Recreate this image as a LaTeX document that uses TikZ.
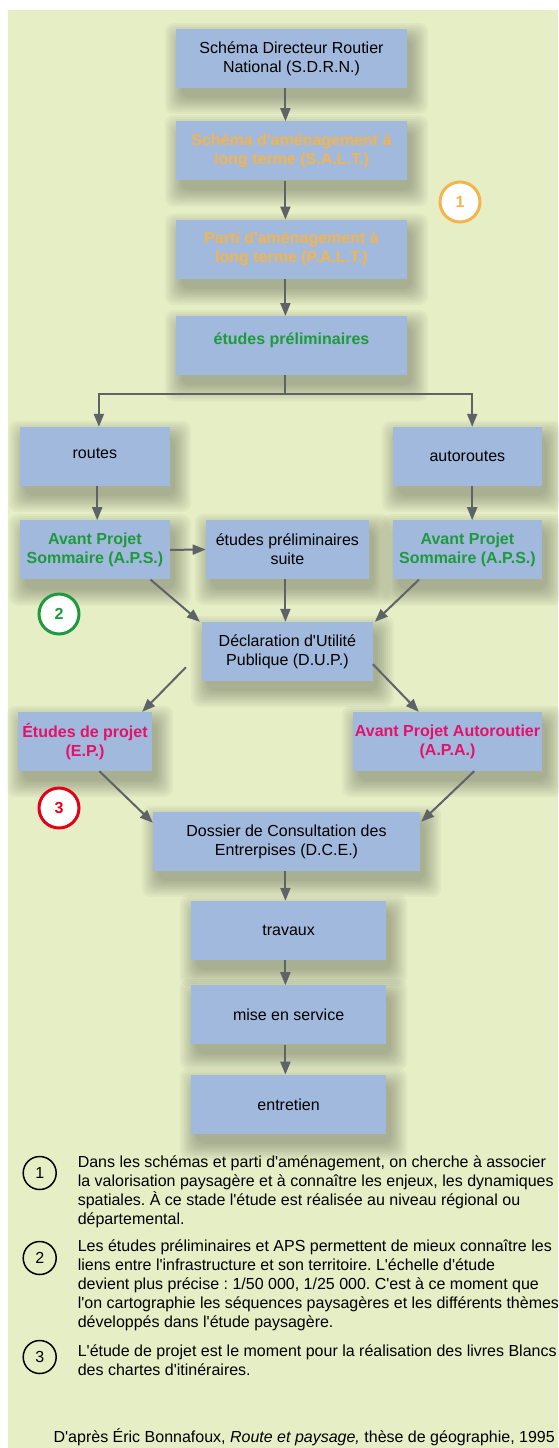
\documentclass[tikz,border=0pt]{standalone}
\usepackage{fontspec}
\setmainfont{Liberation Sans}[Ligatures=TeXOff]
\usepackage{tikz}
\usetikzlibrary{arrows.meta, positioning, calc}
\pgfdeclarelayer{background}
\pgfsetlayers{background,main}
\definecolor{bgyellow}{HTML}{E6EEC6}
\definecolor{boxblue}{HTML}{A1B9DD}
\definecolor{arrowgrey}{HTML}{5E6368}
\definecolor{orangetxt}{HTML}{F4B44C}
\definecolor{greentxt}{HTML}{1E9A3C}
\definecolor{pinktxt}{HTML}{E5106A}
\definecolor{redring}{HTML}{E2001A}
\tikzset{
  block/.style = {rectangle, fill=boxblue, align=center, minimum height=59pt, inner sep=0pt},
  orangebold/.style = {text=orangetxt, font=\fontsize{16}{19}\selectfont\bfseries},
  greenbold/.style  = {text=greentxt, font=\fontsize{16}{19}\selectfont\bfseries},
  pinkbold/.style   = {text=pinktxt, font=\fontsize{16}{19}\selectfont\bfseries},
  ring/.style = {circle, draw, line width=3pt, fill=white, minimum size=40pt, inner sep=0pt,
    font=\fontsize{16}{19}\selectfont\bfseries},
  note/.style = {circle, draw=black, line width=1.5pt, minimum size=33pt, inner sep=0pt},
  notetext/.style = {anchor=north west, align=left, inner sep=0pt},
  shade/.style = {black, opacity=0.03, rounded corners=9pt},
  arrow/.style = {line width=2pt, arrowgrey, -{Triangle[length=13pt,width=10pt]}},
  line/.style  = {line width=2pt, arrowgrey},
}
\begin{document}
\frenchspacing
\begin{tikzpicture}[x=1pt, y=-1pt, font=\fontsize{16}{19}\selectfont]

  \useasboundingbox (0,0) rectangle (558,1448);
  \begin{pgfonlayer}{background}
    \fill[bgyellow] (8,10) rectangle (558,1448);
  \end{pgfonlayer}
  \coordinate (spine) at (285.4,0);
  \coordinate (fork) at (285.4,394);

  % Top column
  \node[block, minimum width=231pt] (sdrn) at (291.5,58.5) {Schéma Directeur Routier\\National (S.D.R.N.)};
  \node[block, minimum width=231pt, orangebold, below=33pt of sdrn] (salt) {Schéma d'aménagement à\\long terme (S.A.L.T.)};
  \node[block, minimum width=231pt, orangebold, below=39pt of salt] (palt) {Parti d'aménagement à\\long terme (P.A.L.T.)};
  \node[block, minimum width=231pt, greenbold, text depth=15pt, below=37pt of palt] (etpre) {études préliminaires};

  % Routes / autoroutes
  \node[block, minimum width=150pt, text depth=7pt] (routes) at (94.9,456.5) {routes};
  \node[block, minimum width=149pt] (autor) at (467.4,456.5) {autoroutes};
  \node[block, minimum width=150pt, greenbold, below=34pt of routes] (apsl) {Avant Projet\\Sommaire (A.P.S.)};
  \node[block, minimum width=149pt, greenbold, below=34pt of autor]  (apsr) {Avant Projet\\Sommaire (A.P.S.)};
  \node[block, minimum width=163pt] (suite) at (287.4,549.5) {études préliminaires\\suite};

  % Middle part
  \node[block, minimum width=170.5pt] (dup) at (287.4,651.5) {Déclaration d'Utilité\\Publique (D.U.P.)};
  \node[block, minimum width=134pt, pinkbold] (ep) at (85,741.5) {Études de projet\\(E.P.)};
  \node[block, minimum width=189pt, pinkbold] (apa) at (447.5,741.5) {Avant Projet Autoroutier\\(A.P.A.)};
  \node[block, minimum width=267pt] (dce) at (286.5,841.5) {Dossier de Consultation des\\Entrerpises (D.C.E.)};

  % Bottom column
  \node[block, minimum width=195pt] (trav) at (288.6,930.5) {travaux};
  \node[block, minimum width=195pt, below=25pt of trav] (mise) {mise en service};
  \node[block, minimum width=195pt, below=30pt of mise] (entr) {entretien};

  % Soft shadows under the boxes
  \begin{pgfonlayer}{background}
    \foreach \b in {sdrn,salt,palt,etpre,routes,autor,apsl,apsr,suite,dup,ep,apa,dce,trav,mise,entr}
      \foreach \e in {0,2,...,16}
        \fill[shade] ([shift={(5-\e,10-\e)}]\b.north west) rectangle ([shift={(5+\e,10+\e)}]\b.south east);
  \end{pgfonlayer}

  % Step rings
  \node[ring, draw=orangetxt, text=orangetxt] (r1) at (460,202) {1};
  \node[ring, draw=greentxt, text=greentxt] (r2) at (59,614) {2};
  \node[ring, draw=redring, text=redring] (r3) at (59,808) {3};

  % Arrows down the top column
  \draw[arrow] (sdrn.south -| spine) -- (salt.north -| spine);
  \draw[arrow] (salt.south -| spine) -- (palt.north -| spine);
  \draw[arrow] (palt.south -| spine) -- (etpre.north -| spine);

  % Fork
  \draw[line] (etpre.south -| spine) -- (fork);
  \draw[arrow] (fork) -| ([xshift=4pt]routes.north);
  \draw[arrow] (fork) -| ([xshift=4.8pt]autor.north);
  \draw[arrow] ([xshift=2.3pt]routes.south) -- ([xshift=2.3pt]apsl.north);
  \draw[arrow] ([xshift=4.8pt]autor.south) -- ([xshift=4.8pt]apsr.north);
  \draw[arrow] (apsl.east) -- (suite.west);

  % Towards the D.U.P.
  \draw[arrow] ([xshift=-19.6pt]apsl.south east) -- ([xshift=-2pt]dup.north west);
  \draw[arrow] (suite.south -| spine) -- (dup.north -| spine);
  \draw[arrow] ([xshift=26.3pt]apsr.south west) -- ([xshift=2pt]dup.north east);
  \draw[arrow] ([shift={(-16pt,14pt)}]dup.south west) -- ([xshift=-10pt]ep.north east);
  \draw[arrow] ([yshift=17pt]dup.south east) -- ([xshift=66pt]apa.north west);

  % Towards the D.C.E. and below
  \draw[arrow] ([xshift=81.6pt]ep.south west) -- ([yshift=-11pt]dce.north west);
  \draw[arrow] ([xshift=121.4pt]apa.south west) -- ([shift={(1pt,-10pt)}]dce.north east);
  \draw[arrow] (dce.south -| spine) -- (trav.north -| spine);
  \draw[arrow] (trav.south -| spine) -- (mise.north -| spine);
  \draw[arrow] (mise.south -| spine) -- (entr.north -| spine);

  % Notes
  \node[note] (n1) at (39.7,1173) {1};
  \node[note] (n2) at (39.7,1258) {2};
  \node[note] (n3) at (39.7,1357) {3};
  \node[notetext] (t1) at (77.6,1155.5) {Dans les schémas et parti d'aménagement, on cherche à associer\\la valorisation paysagère et à connaître les enjeux, les dynamiques\\spatiales. À ce stade l'étude est réalisée au niveau régional ou\\départemental.};
  \node[notetext] (t2) at (77.6,1239.5) {Les études préliminaires et APS permettent de mieux connaître les\\liens entre l'infrastructure et son territoire. L'échelle d'étude\\devient plus précise : 1/50 000, 1/25 000. C'est à ce moment que\\l'on cartographie les séquences paysagères et les différents thèmes\\développés dans l'étude paysagère.};
  \node[notetext] (t3) at (77.6,1344.5) {L'étude de projet est le moment pour la réalisation des livres Blancs\\des chartes d'itinéraires.};
  \node[anchor=base east, inner sep=0pt] (src) at (555,1442) {D'après Éric Bonnafoux, \textit{Route et paysage,} thèse de géographie, 1995};

\end{tikzpicture}
\end{document}
